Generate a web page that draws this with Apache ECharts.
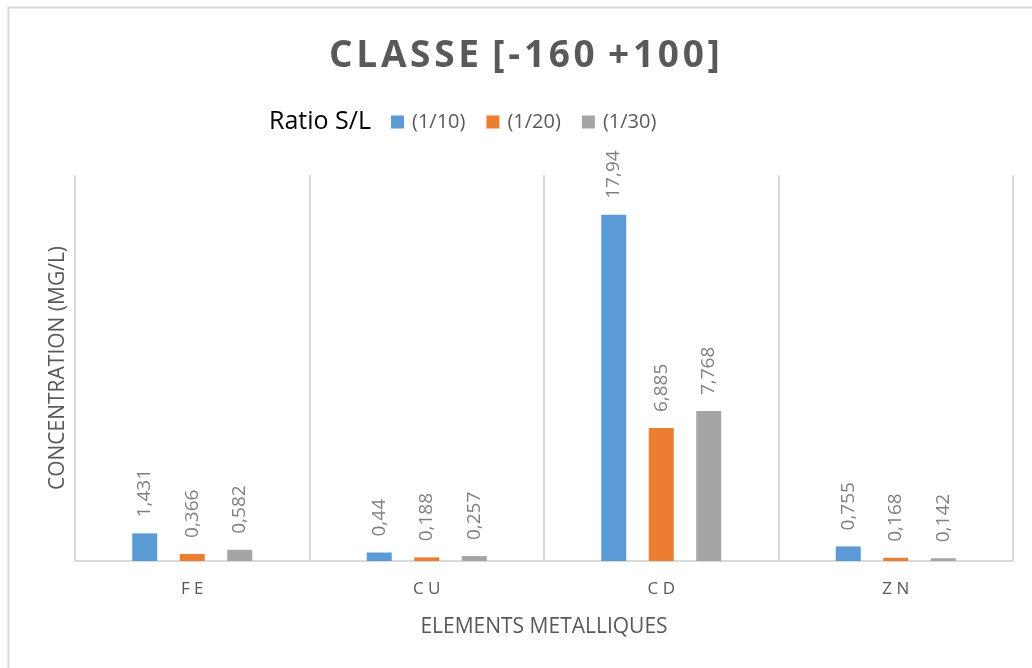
<!DOCTYPE html>
<html><head><meta charset="utf-8">
<script src="https://cdn.jsdelivr.net/npm/echarts@6/dist/echarts.min.js"></script>
<style>html,body{margin:0;padding:0;background:#fff}#c{width:1032px;height:668px}</style>
</head><body><div id="c"></div>
<script>
const categories = ['FE', 'CU', 'CD', 'ZN'];
const seriesNames = ['(1/10)', '(1/20)', '(1/30)'];
const ratio10 = [1.431, 0.44, 17.94, 0.755];
const ratio20 = [0.366, 0.188, 6.885, 0.168];
const ratio30 = [0.582, 0.257, 7.768, 0.142];
const colors = ['#5b9bd5', '#ed7d31', '#a5a5a5'];
const FONT = '"Open Sans", "Liberation Sans", sans-serif';

const chart = echarts.init(document.getElementById('c'), null, {renderer: 'canvas'});
const mk = (name, data, color) => ({
  name, type: 'bar', data, barWidth: 25, barGap: '90%',
  itemStyle: {color},
  label: {
    show: true, position: 'top', rotate: 90, align: 'left', verticalAlign: 'middle',
    distance: 16, color: '#808080', fontSize: 19, fontFamily: FONT,
    formatter: p => String(p.value).replace('.', ',')
  }
});
chart.setOption({
  animation: false,
  textStyle: {fontFamily: FONT},
  title: {
    text: 'C L A S S E  [ - 1 6 0  + 1 0 0 ]'.replace(/ (?! )/g, '\u200A').replace(/  /g, ' '),
    left: 324, top: 33,
    textStyle: {fontFamily: FONT, fontWeight: 'bold', fontSize: 37, color: '#595959'}
  },
  graphic: [
    {type: 'rect', shape: {x: 8.5, y: 7.5, width: 1100, height: 800},
     style: {fill: 'none', stroke: '#d9d9d9', lineWidth: 2}, silent: true},
    {type: 'text', left: 269, top: 109,
     style: {text: 'Ratio S/L', fontFamily: FONT, fontSize: 25, fill: '#000'}}
  ],
  legend: {
    left: 391, top: 112, padding: 0, itemWidth: 13, itemHeight: 13, itemGap: 21, icon: 'rect',
    data: seriesNames,
    textStyle: {fontFamily: FONT, fontSize: 20, color: '#595959', padding: [0, 0, 0, 3]}
  },
  grid: {left: 75, right: 19, top: 175, bottom: 107, containLabel: false},
  xAxis: {
    type: 'category', data: categories,
    name: 'ELEMENTS METALLIQUES', nameLocation: 'middle', nameGap: 56,
    nameTextStyle: {fontFamily: FONT, fontSize: 21, color: '#595959'},
    axisLine: {lineStyle: {color: '#d9d9d9', width: 2}},
    axisTick: {show: false},
    axisLabel: {margin: 20, fontFamily: FONT, fontSize: 17, color: '#595959',
      formatter: v => v.split('').join(' ')},
    splitLine: {show: true, interval: 0, lineStyle: {color: '#d9d9d9', width: 2}}
  },
  yAxis: {
    type: 'value', min: 0, max: 20, show: true,
    name: 'CONCENTRATION (MG/L)', nameLocation: 'middle', nameGap: 6,
    nameTextStyle: {fontFamily: FONT, fontSize: 21, color: '#595959'},
    axisLine: {show: false}, axisTick: {show: false}, axisLabel: {show: false},
    splitLine: {show: false}
  },
  series: [
    mk(seriesNames[0], ratio10, colors[0]),
    mk(seriesNames[1], ratio20, colors[1]),
    mk(seriesNames[2], ratio30, colors[2])
  ]
});
</script></body></html>
